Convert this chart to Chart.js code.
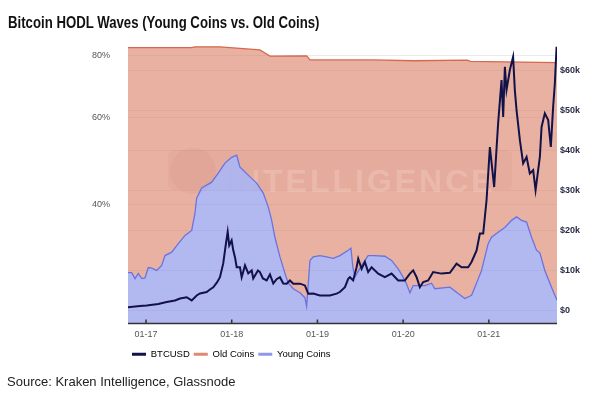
<!DOCTYPE html>
<html>
<head>
<meta charset="utf-8">
<script src="https://cdn.jsdelivr.net/npm/chart.js@4.4.1/dist/chart.umd.min.js"></script>
<style>
  html, body { margin: 0; padding: 0; background: #fff; }
  body { width: 600px; height: 397px; position: relative; overflow: hidden; font-family: 'Liberation Sans', Arial, sans-serif; }
  canvas { position: absolute; left: 0; top: 0; }
  #title { position: absolute; left: 8px; top: 13px; font-size: 16.5px; font-weight: bold; color: #111; white-space: nowrap; transform: scaleX(0.8); transform-origin: 0 0; }
  #source { position: absolute; left: 7px; top: 374px; font-size: 13px; color: #222; white-space: nowrap; }
</style>
</head>
<body>
<canvas id="chart" width="600" height="397"></canvas>
<div id="title">Bitcoin HODL Waves (Young Coins vs. Old Coins)</div>
<div id="source">Source: Kraken Intelligence, Glassnode</div>
<script>
// x values are decimal years
const xTicks = [2017, 2018, 2019, 2020, 2021];
const pctTicks = [40, 60, 80];
const usdTicks = [0, 10000, 20000, 30000, 40000, 50000, 60000];

const btcYears = [2016.79, 2016.93, 2017.008, 2017.143, 2017.241, 2017.338, 2017.397, 2017.475, 2017.533, 2017.591,
  2017.63, 2017.708, 2017.746, 2017.785, 2017.828, 2017.863, 2017.901, 2017.933, 2017.953, 2017.971,
  2017.999, 2018.018, 2018.038, 2018.058, 2018.096, 2018.116, 2018.155, 2018.193, 2018.233, 2018.251,
  2018.306, 2018.329, 2018.364, 2018.408, 2018.446, 2018.485, 2018.524, 2018.563, 2018.601, 2018.641,
  2018.679, 2018.718, 2018.796, 2018.854, 2018.893, 2018.951, 2019.029, 2019.146, 2019.224, 2019.262,
  2019.321, 2019.359, 2019.379, 2019.417, 2019.457, 2019.476, 2019.515, 2019.554, 2019.592, 2019.632,
  2019.709, 2019.787, 2019.865, 2019.942, 2020.02, 2020.079, 2020.117, 2020.157, 2020.195, 2020.234,
  2020.292, 2020.35, 2020.448, 2020.545, 2020.623, 2020.682, 2020.759, 2020.798, 2020.857, 2020.895,
  2020.934, 2020.973, 2021.012, 2021.062, 2021.108, 2021.148, 2021.167, 2021.187, 2021.206, 2021.245,
  2021.283, 2021.303, 2021.323, 2021.362, 2021.4, 2021.44, 2021.478, 2021.517, 2021.545, 2021.595,
  2021.615, 2021.653, 2021.692, 2021.723, 2021.75, 2021.77, 2021.79];
const btcPrice = [830, 1100, 1250, 1600, 2100, 2500, 3000, 3300, 2500, 3750,
  4250, 4600, 5250, 5800, 7000, 8300, 11750, 16750, 19600, 16250,
  17500, 15000, 13300, 10800, 10800, 8300, 11250, 9250, 10000, 8000,
  10000, 9600, 8000, 7500, 9000, 6750, 7800, 8300, 6750, 6700,
  7500, 6700, 6700, 6250, 4200, 4250, 3750, 3750, 4200, 4600,
  5800, 7900, 8300, 7500, 10800, 12900, 10400, 12100, 9600, 10800,
  9200, 8300, 9200, 7500, 7500, 9200, 10000, 8300, 5800, 7100,
  7500, 9600, 9200, 9400, 11700, 10800, 10800, 12100, 15000, 19200,
  19200, 27500, 40800, 30800, 46700, 57500, 48300, 60800, 55000, 60000,
  63300, 55000, 50000, 42500, 36700, 38300, 34200, 35000, 30000, 38300,
  45800, 49200, 47500, 40800, 50800, 56700, 65800];

const oldYears = [2016.79, 2017.533, 2017.571, 2017.863, 2018.096, 2018.329, 2018.364, 2018.446, 2018.874, 2018.913,
  2019.647, 2020.117, 2020.75, 2020.785, 2021.795];
const oldCoins = [82.8, 82.8, 83.1, 83.1, 82.5, 81.9, 81.2, 79.6, 79.7, 78.2,
  78.2, 77.9, 78.1, 77.7, 77.2];

const youngYears = [2016.79, 2016.833, 2016.872, 2016.91, 2016.95, 2016.988, 2017.027, 2017.066, 2017.125, 2017.183,
  2017.222, 2017.3, 2017.377, 2017.455, 2017.533, 2017.571, 2017.591, 2017.65, 2017.766, 2017.843,
  2017.921, 2018.0, 2018.058, 2018.096, 2018.135, 2018.213, 2018.291, 2018.368, 2018.426, 2018.466,
  2018.504, 2018.563, 2018.621, 2018.66, 2018.718, 2018.796, 2018.854, 2018.874, 2018.913, 2018.951,
  2019.029, 2019.107, 2019.184, 2019.262, 2019.359, 2019.391, 2019.414, 2019.437, 2019.515, 2019.592,
  2019.67, 2019.787, 2019.865, 2019.942, 2020.0, 2020.04, 2020.079, 2020.117, 2020.254, 2020.332,
  2020.37, 2020.545, 2020.642, 2020.72, 2020.798, 2020.837, 2020.915, 2020.992, 2021.031, 2021.108,
  2021.186, 2021.265, 2021.323, 2021.381, 2021.44, 2021.498, 2021.556, 2021.595, 2021.653, 2021.731, 2021.795];
const youngCoins = [29.2, 29.2, 28.4, 29.1, 28.4, 28.5, 29.9, 29.8, 29.5, 30.2,
  31.6, 32.1, 33.4, 34.7, 35.5, 38.4, 41.2, 43.2, 44.4, 46.3,
  48.5, 49.8, 50.3, 47.6, 46.9, 45.5, 44.2, 42.2, 39.6, 37.2,
  34.4, 31.4, 29.1, 27.8, 27.1, 26.6, 26.0, 25.0, 30.9, 31.4,
  31.6, 31.4, 31.2, 31.6, 32.4, 32.7, 29.9, 28.6, 30.2, 31.6,
  31.6, 31.5, 30.9, 29.7, 28.6, 27.7, 26.6, 27.5, 27.5, 27.8,
  27.1, 27.3, 26.5, 25.9, 26.3, 27.3, 29.5, 33.4, 34.4, 35.2,
  36.0, 37.2, 37.8, 37.2, 36.9, 34.4, 32.4, 32.0, 29.5, 27.3, 25.7];

const FONT = "'Liberation Sans', Arial, sans-serif";
const pairs = (xs, ys) => xs.map((x, i) => ({ x: x, y: ys[i] }));

// faint "INTELLIGENCE" watermark, drawn between the two area fills
const watermark = {
  id: 'watermark',
  afterDatasetDraw(chart, args) {
    if (args.index !== 1) return;
    const { ctx, chartArea } = chart;
    const l = chartArea.left + 40, t = chartArea.top + 105;
    ctx.save();
    ctx.fillStyle = 'rgba(150,60,40,0.045)';
    ctx.beginPath();
    ctx.roundRect(l, t, 344, 40, 6);
    ctx.fill();
    ctx.fillStyle = 'rgba(150,60,40,0.05)';
    ctx.beginPath();
    ctx.arc(l + 25, t + 21, 23, 0, Math.PI * 2);
    ctx.fill();
    ctx.font = 'bold 32px ' + FONT;
    ctx.letterSpacing = '3px';
    ctx.fillStyle = 'rgba(255,235,228,0.2)';
    ctx.fillText('INTELLIGENCE', l + 57, t + 33);
    ctx.restore();
  }
};

// date axis line with short tick marks pointing up
const innerTicks = {
  id: 'innerTicks',
  afterDatasetsDraw(chart) {
    const { ctx, chartArea, scales } = chart;
    const x = scales.x;
    ctx.save();
    ctx.strokeStyle = '#333';
    ctx.lineWidth = 1.5;
    ctx.beginPath();
    ctx.moveTo(chartArea.left, chartArea.bottom);
    ctx.lineTo(chartArea.right, chartArea.bottom);
    x.ticks.forEach((t, i) => {
      const px = x.getPixelForTick(i);
      ctx.moveTo(px, chartArea.bottom);
      ctx.lineTo(px, chartArea.bottom - 4);
    });
    ctx.stroke();
    ctx.restore();
  }
};

const legendColors = ['#12124a', '#de8a72', '#8f97ec'];

new Chart(document.getElementById('chart'), {
  type: 'line',
  data: {
    datasets: [
      {
        label: 'BTCUSD',
        data: pairs(btcYears, btcPrice),
        yAxisID: 'yR',
        borderColor: '#12124a',
        borderWidth: 2,
        pointRadius: 0,
        fill: false,
        order: 0
      },
      {
        label: 'Old Coins',
        data: pairs(oldYears, oldCoins),
        yAxisID: 'yL',
        borderColor: '#d4694f',
        borderWidth: 1.3,
        backgroundColor: 'rgba(218,125,100,0.6)',
        pointRadius: 0,
        fill: '+1',
        order: 2
      },
      {
        label: 'Young Coins',
        data: pairs(youngYears, youngCoins),
        yAxisID: 'yL',
        borderColor: '#6a73e1',
        borderWidth: 1.3,
        backgroundColor: 'rgba(127,137,230,0.6)',
        pointRadius: 0,
        fill: 'start',
        order: 1
      }
    ]
  },
  options: {
    responsive: false,
    animation: false,
    devicePixelRatio: 1,
    layout: { padding: { top: 45, bottom: 28, left: 0, right: 0 } },
    scales: {
      x: {
        type: 'linear',
        min: 2016.79,
        max: 2021.795,
        afterBuildTicks: s => { s.ticks = xTicks.map(v => ({ value: v })); },
        afterFit: s => { s.height = 22; },
        grid: { display: false, drawTicks: false },
        border: { display: false },
        ticks: {
          padding: 6,
          color: '#555',
          font: { size: 9, family: FONT },
          callback: v => '01-' + String(v).slice(2)
        }
      },
      yL: {
        type: 'logarithmic',
        position: 'left',
        min: 23.07,
        max: 83.8,
        afterBuildTicks: s => { s.ticks = pctTicks.map(v => ({ value: v })); },
        afterFit: s => { s.width = 128; },
        grid: { color: 'rgba(0,0,0,0.08)', drawTicks: false },
        border: { display: false },
        ticks: {
          padding: 18,
          color: '#555',
          font: { size: 9, family: FONT },
          callback: v => v + '%'
        }
      },
      yR: {
        type: 'linear',
        position: 'right',
        min: -3250,
        max: 66250,
        afterBuildTicks: s => { s.ticks = usdTicks.map(v => ({ value: v })); },
        afterFit: s => { s.width = 43; },
        grid: { color: 'rgba(0,0,0,0.08)', drawTicks: false },
        border: { display: false },
        ticks: {
          padding: 3,
          color: '#2a2d45',
          font: { size: 9, weight: 'bold', family: FONT },
          callback: v => v === 0 ? '$0' : '$' + (v / 1000) + 'k'
        }
      }
    },
    plugins: {
      title: { display: false },
      tooltip: { enabled: false },
      legend: {
        position: 'bottom',
        align: 'start',
        fullSize: false,
        labels: {
          boxWidth: 14,
          boxHeight: 3,
          padding: 4,
          color: '#2d2d3a',
          font: { size: 9.5, family: FONT },
          generateLabels: chart => chart.data.datasets.map((d, i) => ({
            text: d.label,
            fillStyle: legendColors[i],
            strokeStyle: legendColors[i],
            lineWidth: 0,
            datasetIndex: i,
            hidden: false
          }))
        }
      }
    }
  },
  plugins: [watermark, innerTicks]
});
</script>
</body>
</html>
